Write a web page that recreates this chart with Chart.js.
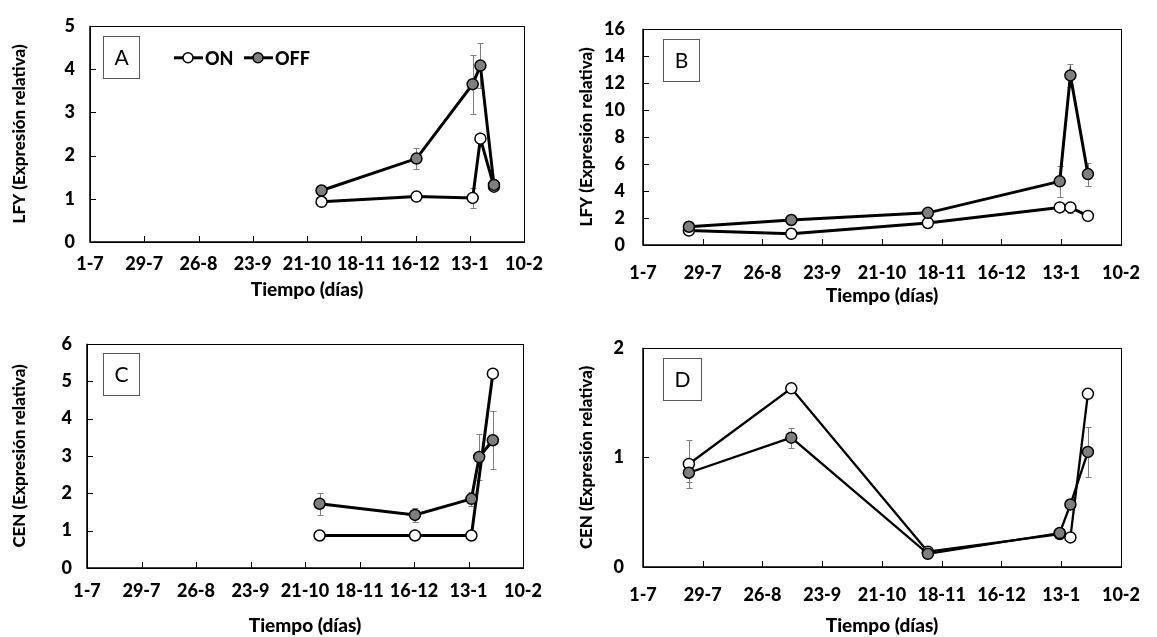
<!DOCTYPE html>
<html>
<head>
<meta charset="utf-8">
<script src="https://cdn.jsdelivr.net/npm/chart.js@4.4.1/dist/chart.umd.min.js"></script>
<style>
  html, body { margin: 0; padding: 0; background: #fff; }
  #wrap { position: relative; width: 1157px; height: 637px; overflow: hidden; background: #fff; }
  canvas { position: absolute; }
</style>
</head>
<body>
<div id="wrap">
  <canvas id="chartA" width="578" height="318" style="left:0;top:0"></canvas>
  <canvas id="chartB" width="579" height="318" style="left:578px;top:0"></canvas>
  <canvas id="chartC" width="578" height="319" style="left:0;top:318px"></canvas>
  <canvas id="chartD" width="579" height="319" style="left:578px;top:318px"></canvas>
</div>
<script>
// x axis: days since 1-7, one tick every 28 days
const xTickLabels = ['1-7', '29-7', '26-8', '23-9', '21-10', '18-11', '16-12', '13-1', '10-2']
const daysAC = [119.5, 168.5, 197.5, 201.5, 208.5]
const daysBD = [21.5, 69.5, 133.5, 195.3, 200.3, 208.5]

// A: LFY
const lfyOnA = [0.93, 1.05, 1.02, 2.39, 1.28]
const lfyOnErrA = [0.04, 0.04, 0.24, 0.1, 0.08]
const lfyOffA = [1.19, 1.93, 3.65, 4.08, 1.32]
const lfyOffErrA = [0.05, 0.24, 0.68, 0.52, 0.12]

// B: LFY
const lfyOnB = [1.07, 0.83, 1.63, 2.78, 2.78, 2.15]
const lfyOnErrB = [0.1, 0.1, 0.1, 0.35, 0.4, 0.15]
const lfyOffB = [1.35, 1.85, 2.38, 4.71, 12.55, 5.25]
const lfyOffErrB = [0.1, 0.1, 0.1, 1.17, 0.84, 0.85]

// C: CEN
const cenOnC = [0.87, 0.87, 0.87, null, 5.2]
const cenOnErrC = [0.03, 0.03, 0.03, null, 0.05]
const cenOffC = [1.72, 1.42, 1.85, 2.97, 3.42]
const cenOffErrC = [0.3, 0.19, 0.18, 0.61, 0.77]

// D: CEN
const cenOnD = [0.94, 1.63, 0.14, 0.3, 0.27, 1.58]
const cenOnErrD = [0.22, 0.02, 0.02, 0.02, 0.02, 0.02]
const cenOffD = [0.86, 1.18, 0.12, 0.31, 0.57, 1.05]
const cenOffErrD = [0.08, 0.09, 0.02, 0.02, 0.03, 0.23]

const FONT = 'Lato'
const OFF_FILL = '#7f7f7f'
const ERR_COLOR = '#7f7f7f'

Chart.defaults.font.family = FONT
Chart.defaults.color = '#000'

const panelDecor = {
  id: 'panelDecor',
  beforeDatasetsDraw(chart) {
    const { ctx, chartArea: a } = chart
    const xs = chart.scales.x
    const ys = chart.scales.y
    ctx.save()
    // plot frame
    ctx.strokeStyle = '#000'
    ctx.lineWidth = 1
    ctx.strokeRect(Math.round(a.left) + 0.5, Math.round(a.top) + 0.5, Math.round(a.right - a.left), Math.round(a.bottom - a.top))
    ctx.lineWidth = 1.5
    ctx.beginPath()
    ctx.moveTo(a.left, a.top)
    ctx.lineTo(a.left, a.bottom)
    ctx.lineTo(a.right, a.bottom)
    ctx.stroke()
    // inward tick marks
    ctx.lineWidth = 1
    ctx.beginPath()
    for (const t of xs.ticks) {
      const px = Math.round(xs.getPixelForValue(t.value)) + 0.5
      ctx.moveTo(px, a.bottom)
      ctx.lineTo(px, a.bottom - 6)
    }
    for (const t of ys.ticks) {
      const py = Math.round(ys.getPixelForValue(t.value)) + 0.5
      ctx.moveTo(a.left, py)
      ctx.lineTo(a.left + 6, py)
    }
    ctx.stroke()

    // error bars, behind lines and markers
    ctx.strokeStyle = ERR_COLOR
    ctx.lineWidth = 1
    for (const ds of chart.data.datasets) {
      (ds.errors || []).forEach((err, i) => {
        const pt = ds.data[i]
        if (!pt || pt.y == null || !err) return
        const px = Math.round(xs.getPixelForValue(pt.x)) + 0.5
        const top = Math.round(ys.getPixelForValue(pt.y + err)) + 0.5
        const bot = Math.round(ys.getPixelForValue(Math.max(pt.y - err, 0))) + 0.5
        ctx.beginPath()
        ctx.moveTo(px, top)
        ctx.lineTo(px, bot)
        ctx.moveTo(px - 3, top)
        ctx.lineTo(px + 3, top)
        ctx.moveTo(px - 3, bot)
        ctx.lineTo(px + 3, bot)
        ctx.stroke()
      })
    }
    ctx.restore()
  },
  afterDraw(chart, _args, opts) {
    const { ctx, chartArea: a } = chart
    ctx.save()
    // panel letter box
    const b = opts.box
    const bx = Math.round(a.left + b[0]) + 0.5
    const by = Math.round(a.top + b[1]) + 0.5
    ctx.fillStyle = '#fff'
    ctx.fillRect(bx, by, b[2], b[3])
    ctx.strokeStyle = '#595959'
    ctx.lineWidth = 1
    ctx.strokeRect(bx, by, b[2], b[3])
    ctx.fillStyle = '#000'
    ctx.font = `21px ${FONT}`
    ctx.textAlign = 'center'
    ctx.textBaseline = 'middle'
    ctx.fillText(opts.letter, bx + b[2] / 2, by + b[3] / 2 + 1)

    // legend (panel A only)
    if (opts.legend) {
      const y = a.top + 32
      const items = [
        { x: a.left + 84, fill: '#fff', text: 'ON' },
        { x: a.left + 154, fill: OFF_FILL, text: 'OFF' },
      ]
      ctx.font = `900 18px ${FONT}`
      ctx.textAlign = 'left'
      for (const it of items) {
        ctx.strokeStyle = '#000'
        ctx.lineWidth = 3
        ctx.beginPath()
        ctx.moveTo(it.x, y)
        ctx.lineTo(it.x + 29, y)
        ctx.stroke()
        ctx.beginPath()
        ctx.arc(it.x + 14, y, 5, 0, Math.PI * 2)
        ctx.fillStyle = it.fill
        ctx.fill()
        ctx.lineWidth = 1.5
        ctx.stroke()
        ctx.fillStyle = '#000'
        ctx.fillText(it.text, it.x + 31, y + 1)
      }
    }
    ctx.restore()
  },
}

function toPoints(days, values) {
  return days.map((d, i) => ({ x: d, y: values[i] }))
}

function makePanel(id, p) {
  const tickFont = { family: FONT, size: 18, weight: 900 }
  return new Chart(document.getElementById(id), {
    type: 'line',
    data: {
      datasets: [
        {
          label: 'ON',
          data: toPoints(p.days, p.on),
          errors: p.onErr,
          order: 2,
          borderColor: '#000',
          borderWidth: p.lineWidth,
          pointBackgroundColor: '#fff',
          pointBorderColor: '#000',
          pointBorderWidth: 1.5,
          pointRadius: 5.5,
          spanGaps: true,
          tension: 0,
        },
        {
          label: 'OFF',
          data: toPoints(p.days, p.off),
          errors: p.offErr,
          order: 1,
          borderColor: '#000',
          borderWidth: p.lineWidth,
          pointBackgroundColor: OFF_FILL,
          pointBorderColor: '#000',
          pointBorderWidth: 1.5,
          pointRadius: 5.5,
          tension: 0,
        },
      ],
    },
    options: {
      responsive: false,
      animation: false,
      events: [],
      layout: { autoPadding: false, padding: { left: 0, top: p.top, right: p.right, bottom: 0 } },
      scales: {
        x: {
          type: 'linear',
          min: 0,
          max: 224,
          grid: { display: false, drawTicks: false },
          border: { display: false },
          ticks: {
            stepSize: 28,
            autoSkip: false,
            maxRotation: 0,
            padding: p.xPad,
            font: tickFont,
            color: '#000',
            callback: (v) => xTickLabels[Math.round(v / 28)] ?? '',
          },
          title: {
            display: true,
            text: 'Tiempo (días)',
            color: '#000',
            font: { family: FONT, size: 19, weight: 900, lineHeight: 1 },
            padding: { top: 0, bottom: p.xTitlePad },
          },
          afterFit(scale) { scale.height = p.xHeight },
        },
        y: {
          min: 0,
          max: p.yMax,
          grid: { display: false, drawTicks: false },
          border: { display: false },
          ticks: { stepSize: p.yStep, padding: p.yPad, font: tickFont, color: '#000' },
          title: {
            display: true,
            text: p.yTitle,
            color: '#000',
            font: { family: FONT, size: 17, weight: 900, lineHeight: 1 },
            padding: { top: p.yTitlePad, bottom: 0 },
          },
          afterFit(scale) { scale.width = p.yWidth },
        },
      },
      plugins: {
        legend: { display: false },
        tooltip: { enabled: false },
        panelDecor: { letter: p.letter, box: p.box, legend: !!p.legend },
      },
    },
    plugins: [panelDecor],
  })
}

makePanel('chartA', {
  letter: 'A', legend: true, days: daysAC,
  on: lfyOnA, onErr: lfyOnErrA, off: lfyOffA, offErr: lfyOffErrA,
  yMax: 5, yStep: 1, yTitle: 'LFY (Expresión relativa)', lineWidth: 3,
  top: 21, right: 54, xHeight: 76, yWidth: 90, xPad: 11, xTitlePad: 19, yPad: 15, yTitlePad: 11,
  box: [13, 10, 36, 42],
})

makePanel('chartB', {
  letter: 'B', days: daysBD,
  on: lfyOnB, onErr: lfyOnErrB, off: lfyOffB, offErr: lfyOffErrB,
  yMax: 16, yStep: 2, yTitle: 'LFY (Expresión relativa)', lineWidth: 3,
  top: 21, right: 26, xHeight: 73, yWidth: 65, xPad: 17, xTitlePad: 13, yPad: 18, yTitlePad: 0,
  box: [20, 10, 36, 42],
})

makePanel('chartC', {
  letter: 'C', days: daysAC,
  on: cenOnC, onErr: cenOnErrC, off: cenOffC, offErr: cenOffErrC,
  yMax: 6, yStep: 1, yTitle: 'CEN (Expresión relativa)', lineWidth: 3,
  top: 8, right: 55, xHeight: 69, yWidth: 87, xPad: 12, xTitlePad: 2, yPad: 15, yTitlePad: 11,
  box: [16, 9, 36, 42],
})

makePanel('chartD', {
  letter: 'D', days: daysBD,
  on: cenOnD, onErr: cenOnErrD, off: cenOffD, offErr: cenOffErrD,
  yMax: 2, yStep: 1, yTitle: 'CEN (Expresión relativa)', lineWidth: 2.3,
  top: 7, right: 26, xHeight: 70, yWidth: 65, xPad: 17, xTitlePad: 2, yPad: 19, yTitlePad: 0,
  box: [20, 10, 38, 42],
})
</script>
</body>
</html>
